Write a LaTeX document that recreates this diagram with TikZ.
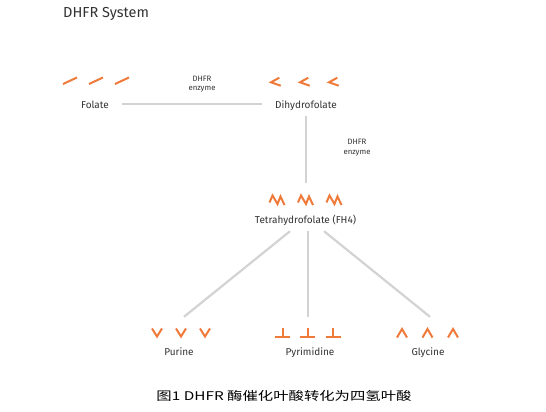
\documentclass[tikz,border=0pt]{standalone}
\usepackage{fontspec}
\setmainfont{Fira Sans}
\newfontfamily\cjk{Noto Sans CJK SC}
\usetikzlibrary{calc}
\definecolor{glyphorange}{HTML}{F07A3A}
\definecolor{linegray}{HTML}{D3D3D3}
\definecolor{txt}{HTML}{333333}
\begin{document}
\begin{tikzpicture}[x=1pt,y=-1pt,
  lbl/.style={font=\fontsize{10}{11}\selectfont, text=txt, inner sep=0pt, anchor=base, text height=8pt, text depth=0pt},
  small/.style={font=\fontsize{7.8}{9.5}\selectfont, text=txt, inner sep=0pt, align=center},
  conn/.style={draw=linegray, line width=2.2pt},
  glyph/.style={draw=glyphorange, line width=2pt, line join=miter},
  grp/.style={inner sep=0pt, minimum width=60pt}
]
\useasboundingbox[fill=white] (0,0) rectangle (546,412);

% title
\node[anchor=base west, font=\fontsize{14.5}{16}\selectfont, text=txt, inner sep=0pt] (title) at (63,17.5) {DHFR System};

% labels
\node[lbl] (folate) at (95,108) {Folate};
\node[lbl] (dihydro) at (306,108) {Dihydrofolate};
\node[lbl] (fh4) at (305.5,223.5) {Tetrahydrofolate (FH4)};
\node[lbl] (purine) at (179,355) {Purine};
\node[lbl] (pyrimidine) at (310,355) {Pyrimidine};
\node[lbl] (glycine) at (428,355) {Glycine};

\node[small] (enz1) at (202,84) {DHFR\\enzyme};
\node[small] (enz2) at (357,147.5) {DHFR\\enzyme};

% icon groups
\node[grp, minimum height=12pt] (folateicons) at (96,81) {};
\node[grp, minimum height=12pt] (dihydroicons) at (305,81.5) {};
\node[grp, minimum height=34pt] (fh4icons) at (305.5,200) {};
\node[grp, minimum height=31pt] (purineicons) at (181,332.5) {};
\node[grp, minimum height=31pt] (pyrimidineicons) at (307.5,332.5) {};
\node[grp, minimum height=31pt] (glycineicons) at (427.5,332.5) {};

% glyphs
\foreach \cx in {70,96,122} \draw[glyph] (\cx-7,84) -- (\cx+7,77.5);
\foreach \cx in {276,305,334} \draw[glyph] (\cx+3.3,77.7) -- (\cx-5,82.3) -- (\cx+4.7,85.7);
\foreach \cx in {277,305.5,334} \draw[glyph] (\cx-7.5,202.5) -- (\cx-4.5,195.5) -- (\cx+0.5,204) -- (\cx+3.5,196.5) -- (\cx+7.5,205);
\foreach \cx in {157,181,205} \draw[glyph] (\cx-5,328.5) -- (\cx,336.5) -- (\cx+5,328.5);
\foreach \cx in {282.5,307.5,333} \draw[glyph] (\cx,328) -- (\cx,337) (\cx-7.5,337) -- (\cx+7.5,337);
\foreach \cx in {402,427.5,453} \draw[glyph] (\cx-5,337.5) -- (\cx,329) -- (\cx+5,337.5);

% connectors
\draw[conn, shorten <=13pt, shorten >=13pt] (folate.east) -- (dihydro.west);
\draw[conn, shorten <=8pt] (dihydro.south) -- (dihydro.south |- fh4icons.north);
\coordinate (fh4l) at ($(fh4.south)+(-15.5,7.5)$);
\coordinate (fh4m) at ($(fh4.south)+(2.2,7.5)$);
\coordinate (fh4r) at ($(fh4.south)+(18.5,7.5)$);
\coordinate (purend) at ($(purineicons.north)+(3,0)$);
\coordinate (glyend) at ($(glycineicons.north)+(2.5,0)$);
\draw[conn] (fh4l) -- (purend);
\draw[conn] (fh4m) -- (fh4m |- pyrimidineicons.north);
\draw[conn] (fh4r) -- (glyend);

% caption
\node[anchor=base, inner sep=0pt, font=\cjk\fontsize{12}{14}\selectfont, text=black] (caption) at (284,400.5) {\scalebox{1.28}[1]{图1 DHFR 酶催化叶酸转化为四氢叶酸}};
\end{tikzpicture}
\end{document}
